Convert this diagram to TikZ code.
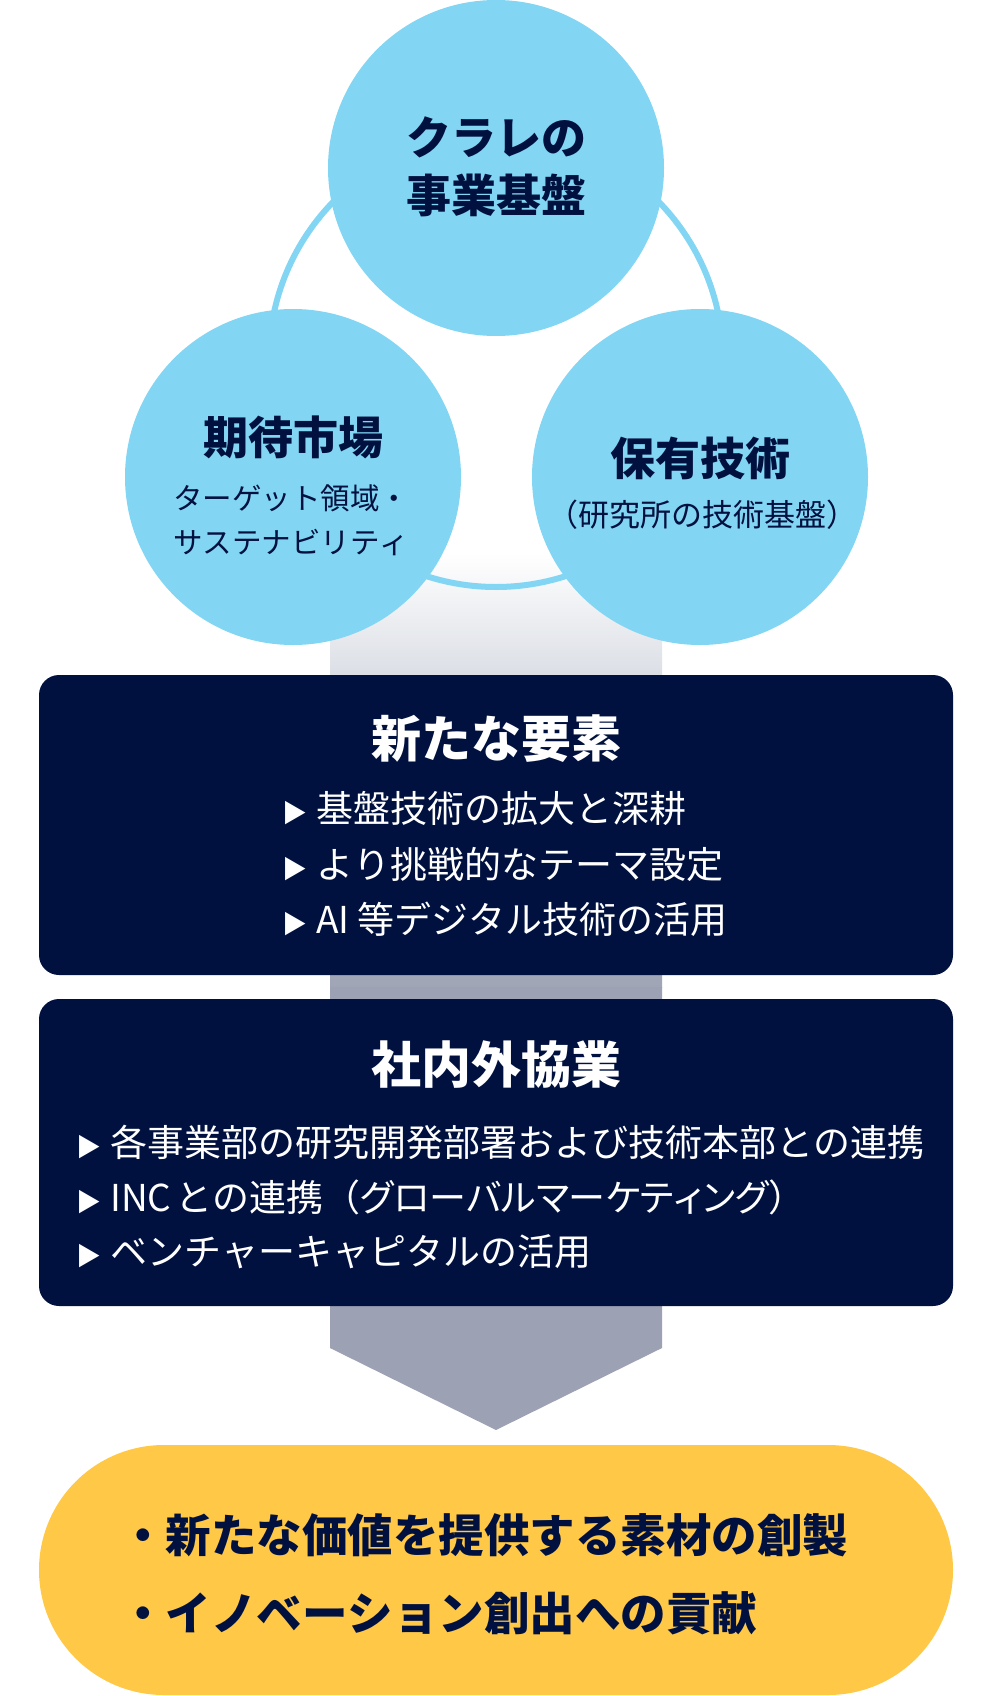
\documentclass[tikz,border=0pt]{standalone}
\usepackage{fontspec}
\setmainfont{Noto Sans CJK JP}[Kerning=Off]
\usepackage{tikz}

\definecolor{navy}{HTML}{00113F}
\definecolor{skyblue}{HTML}{82D5F3}
\definecolor{goldbox}{HTML}{FFC846}
\definecolor{bandmid}{HTML}{D4D8E0}
\definecolor{bandlow}{HTML}{A0A5B6}
\definecolor{arrowgray}{HTML}{9CA1B3}

\newcommand{\tri}{{\fontsize{25}{25}\selectfont ▶}\hspace{9pt}}
\newcommand{\tight}{\addfontfeatures{RawFeature=+palt}}

\tikzset{
  basecircle/.style={circle, fill=skyblue, minimum size=336pt, inner sep=0pt},
  navybox/.style={fill=navy, rounded corners=20pt, minimum width=914pt, inner sep=0pt},
  circtitle/.style={font=\fontsize{45}{58}\selectfont\bfseries, text=navy, align=center},
  circsub/.style={font=\fontsize{29.5}{44}\selectfont, text=navy, align=center},
  boxtitle/.style={font=\fontsize{50}{60}\selectfont\bfseries, text=white},
  boxitem/.style={font=\fontsize{37}{45}\selectfont, text=white, anchor=west, inner sep=0pt},
  goalitem/.style={font=\fontsize{45.5}{55}\selectfont\bfseries, text=navy, anchor=west, inner sep=0pt}
}

\begin{document}
\begin{tikzpicture}[x=1pt, y=-1pt, >=stealth]
    \useasboundingbox (0,0) rectangle (991,1696);

    % Band behind everything
    \shade[top color=white, bottom color=bandmid] (330,553) rectangle (662,700);
    \shade[top color=bandmid, bottom color=bandlow] (330,700) rectangle (662,987);
    \fill[arrowgray] (330,987) -- (330,1348) -- (496,1430) -- (662,1348) -- (662,987) -- cycle;

    % Ring
    \draw[skyblue, line width=6pt] (496,360) circle[radius=227];

    % Three circles
    \node[basecircle] (base)   at (496,168) {};
    \node[basecircle] (market) at (293,477) {};
    \node[basecircle] (tech)   at (700,477) {};

    \node[circtitle] (basetitle) at (496,167) {クラレの\\事業基盤};
    \node[circtitle] (markettitle) at (293,437) {期待市場};
    \node[circsub] (marketsub) at (291,520) {ターゲット領域・\\サステナビリティ};
    \node[circtitle] (techtitle) at (700,458) {保有技術};
    \node[circsub, font=\fontsize{31}{44}\selectfont] (techsub) at (702,515) {（研究所の技術基盤）};

    % New elements box
    \node[navybox, minimum height=300pt] (elem) at (496,825) {};
    \node[boxtitle] (elemtitle) at (496,739) {新たな要素};
    \node[boxitem] (elemA) at (282,808) {\tri 基盤技術の拡大と深耕};
    \node[boxitem] (elemB) at (282,864) {\tri より挑戦的なテーマ設定};
    \node[boxitem] (elemC) at (282,919) {\tri AI 等デジタル技術の活用};

    % Collaboration box
    \node[navybox, minimum height=307pt] (collab) at (496,1152.5) {};
    \node[boxtitle] (collabtitle) at (496,1065) {社内外協業};
    \node[boxitem] (collabA) at (76,1142) {\tri 各事業部の研究開発部署および技術本部との連携};
    \node[boxitem] (collabB) at (76,1197) {\tri INC\hspace{4pt}との連携（{\tight グローバルマーケティング}）};
    \node[boxitem] (collabC) at (76,1252) {\tri ベンチャーキャピタルの活用};

    % Goal
    \node[fill=goldbox, rounded corners=125pt, minimum width=914pt, minimum height=250pt] (goal) at (496,1570) {};
    \node[goalitem] (goalA) at (120,1535) {・新たな価値を提供する素材の創製};
    \node[goalitem] (goalB) at (120,1613) {・イノベーション創出への貢献};
\end{tikzpicture}
\end{document}
